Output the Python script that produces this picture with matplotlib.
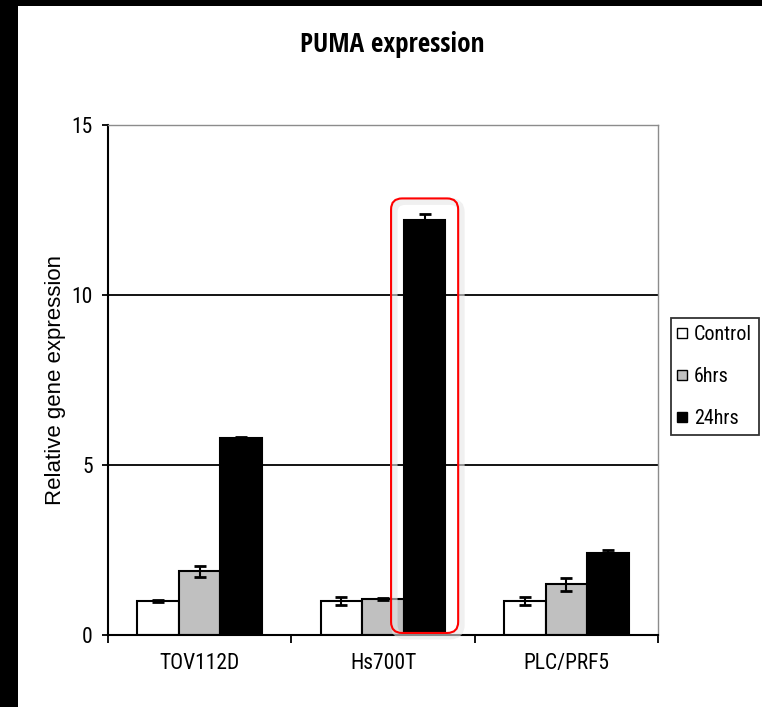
import matplotlib
matplotlib.use("Agg")
import matplotlib.pyplot as plt
import numpy as np
from matplotlib.patches import Rectangle, FancyBboxPatch
from matplotlib.lines import Line2D
from matplotlib.transforms import IdentityTransform
from matplotlib import font_manager as fm

# ---- data ----
categories = ["TOV112D", "Hs700T", "PLC/PRF5"]
series = ["Control", "6hrs", "24hrs"]
control = [1.0, 1.0, 1.0]
control_err = [0.02, 0.12, 0.12]
hrs6 = [1.88, 1.06, 1.49]
hrs6_err = [0.16, 0.02, 0.19]
hrs24 = [5.8, 12.22, 2.40]
hrs24_err = [0.02, 0.17, 0.09]
yticks = [0, 5, 10, 15]

colors = ["white", "#C0C0C0", "black"]

# ---- pick a condensed font if one is installed ----
def find_narrow(bold=False):
    best = None
    for f in fm.fontManager.ttflist:
        nm = (f.name + " " + str(f.fname)).lower()
        cond = ("narrow" in nm or "condensed" in nm or
                str(f.stretch) in ("condensed", "semi-condensed", "extra-condensed"))
        if not cond:
            continue
        if "mono" in nm or "serif" in f.name.lower() and "sans" not in f.name.lower():
            continue
        isbold = (f.weight in ("bold", 700) or (isinstance(f.weight, int) and f.weight >= 700))
        if isbold != bold:
            continue
        if "oblique" in nm or "italic" in nm:
            continue
        score = 0
        if "liberation" in nm or "arial" in nm:
            score = 3
        elif "roboto" in nm or "open" in nm:
            score = 2
        elif "dejavu" in nm:
            score = 1
        if best is None or score > best[0]:
            best = (score, f.fname)
    return best[1] if best else None

nf = find_narrow(False)
nfb = find_narrow(True)
if nf:
    narrow = fm.FontProperties(fname=nf)
    scale = 1.0
else:
    narrow = fm.FontProperties(family="Liberation Sans")
    scale = 0.86
if nfb:
    narrow_b = fm.FontProperties(fname=nfb)
    bscale = 1.0
else:
    narrow_b = fm.FontProperties(family="Liberation Sans", weight="bold")
    bscale = 0.86

def fp(base, size):
    p = base.copy()
    p.set_size(size)
    return p

W, H = 762, 707
fig = plt.figure(figsize=(W / 100, H / 100), dpi=100)
fig.patch.set_facecolor("white")

# black frame strips of the screenshot
fig.patches.append(Rectangle((0, 0), 18 / W, 1, transform=fig.transFigure,
                             facecolor="black", edgecolor="none", zorder=0))
fig.patches.append(Rectangle((0, 1 - 6 / H), 1, 6 / H, transform=fig.transFigure,
                             facecolor="black", edgecolor="none", zorder=0))

ax = fig.add_axes([108 / W, (H - 635) / H, (658 - 108) / W, (635 - 125) / H])
ax.set_xlim(0.5, 3.5)
ax.set_ylim(0, 15)

x = np.arange(1, len(categories) + 1)
bw = 0.227
vals = [control, hrs6, hrs24]
errs = [control_err, hrs6_err, hrs24_err]
for i, (v, e, c) in enumerate(zip(vals, errs, colors)):
    pos = x + (i - 1) * bw
    ax.bar(pos, v, width=bw, color=c, edgecolor="black", linewidth=1.5, zorder=3)
    ax.errorbar(pos, v, yerr=e, fmt="none", ecolor="black", elinewidth=1.5,
                capsize=4, capthick=2, zorder=4)

# gridlines
for g in [5, 10]:
    ax.axhline(g, color="black", linewidth=1.3, zorder=1)

for s in ["top", "right"]:
    ax.spines[s].set_color("#8c8c8c")
    ax.spines[s].set_linewidth(1.0)
for s in ["left", "bottom"]:
    ax.spines[s].set_color("black")
    ax.spines[s].set_linewidth(1.5)
ax.spines["bottom"].set_zorder(5)

ax.set_yticks(yticks)
ax.set_yticklabels([str(t) for t in yticks], fontproperties=fp(narrow, 15.5 * scale))
ax.tick_params(axis="y", direction="out", length=4, width=1.3, pad=7)

ax.set_xticks([0.5, 1.5, 2.5, 3.5])
ax.set_xticklabels([])
ax.set_xticks(x, minor=True)
ax.set_xticklabels(categories, minor=True, fontproperties=fp(narrow, 15.5 * scale))
ax.tick_params(axis="x", which="major", direction="out", length=6, width=1.3)
ax.tick_params(axis="x", which="minor", length=0, pad=13)

# title and axis label
fig.text(392 / W, 1 - 45 / H, "PUMA expression", ha="center", va="center",
         fontproperties=fp(narrow_b, 19.5 * bscale))
fig.text(56 / W, 1 - 380 / H, "Relative gene expression", ha="center", va="center",
         rotation=90, family=["Liberation Sans", "DejaVu Sans"], fontsize=16)

# legend
handles = [Line2D([], [], marker="s", linestyle="none", markersize=6.5,
                  markerfacecolor=c, markeredgecolor="black", markeredgewidth=1.0)
           for c in colors]
leg = fig.legend(handles, series, loc="upper right",
                 bbox_to_anchor=(759 / W, 1 - 318 / H), bbox_transform=fig.transFigure,
                 borderaxespad=0, frameon=True, fancybox=False, edgecolor="black",
                 prop=fp(narrow, 14.5 * scale), handlelength=0.4,
                 handletextpad=0.4, labelspacing=1.15 / scale, borderpad=0.35 / scale)
leg.get_frame().set_linewidth(1.3)

# red highlight box around Hs700T 24hrs bar
fig.canvas.draw()
cx = x[1] + bw
top_v = hrs24[1] + hrs24_err[1] + 0.45
(x0, y0) = ax.transData.transform((cx - 0.183, 0.06))
(x1, y1) = ax.transData.transform((cx + 0.183, top_v))
shadow = FancyBboxPatch((x0 + 3, y0 - 3), x1 - x0, y1 - y0,
                        boxstyle="round,pad=0,rounding_size=11",
                        transform=IdentityTransform(), facecolor="none",
                        edgecolor="#e6e6e6", linewidth=5, alpha=0.6, zorder=9)
fig.add_artist(shadow)
box = FancyBboxPatch((x0, y0), x1 - x0, y1 - y0,
                     boxstyle="round,pad=0,rounding_size=11",
                     transform=IdentityTransform(), facecolor="none",
                     edgecolor="red", linewidth=1.5, zorder=10)
fig.add_artist(box)

fig.savefig("out.png", dpi=100)
